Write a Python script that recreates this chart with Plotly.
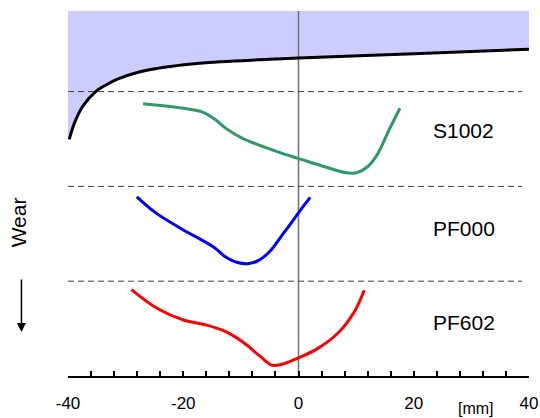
import plotly.graph_objects as go

# Profile (black) curve
profile_x = [-39.8, -38.9, -37.5, -35.2, -32.8, -31.1, -25.9, -17.2, -5.1, 0, 20, 40]
profile_y = [24.96, 26.65, 28.4, 30.0, 30.9, 31.4, 32.3, 33.0, 33.4, 33.55, 34.0, 34.47]

# S1002 (green)
s1002_x = [-26.96, -20.71, -16.55, -14.34, -12.60, -9.72, -3.35, -0.05, 3.59, 8.23, 10.07, 11.98, 13.72, 15.75, 17.60]
s1002_y = [28.72, 28.30, 27.81, 27.00, 26.12, 25.07, 23.59, 22.96, 22.25, 21.44, 21.44, 22.07, 23.40, 26.0, 28.24]

# PF000 (blue)
pf000_x = [-28.06, -24.76, -20.42, -14.64, -12.90, -10.59, -8.56, -6.82, -4.79, -3.06, -1.32, 0.12, 2.03]
pf000_y = [18.90, 17.21, 15.56, 13.56, 12.67, 11.97, 11.87, 12.22, 13.27, 14.68, 16.09, 17.32, 18.84]

# PF602 (red)
pf602_x = [-28.99, -24.48, -19.84, -16.37, -12.90, -9.43, -6.53, -4.51, -2.48, 0.12, 3.30, 6.77, 9.67, 11.41]
pf602_y = [9.12, 7.12, 5.88, 5.43, 4.75, 3.48, 2.01, 1.12, 1.31, 1.94, 2.89, 4.48, 6.76, 9.05]

labels = ["S1002", "PF000", "PF602"]
label_y = [25.94, 15.56, 5.6]
label_x = 23.0
dash_levels = [10, 20, 30]
x_ticks = list(range(-40, 41, 4))
x_ticktext = [str(v) if v % 20 == 0 else "" for v in x_ticks]
Y_TOP = 38.5

FONT = "Liberation Sans, Arial, sans-serif"

fig = go.Figure()
# top boundary for fill
fig.add_trace(go.Scatter(x=[-40, 40], y=[Y_TOP, Y_TOP], mode="lines",
                         line=dict(width=0, color="rgba(0,0,0,0)"), showlegend=False, hoverinfo="skip"))
fig.add_trace(go.Scatter(x=[-40] + profile_x, y=[profile_y[0]] + profile_y, mode="lines",
                         line=dict(width=0, color="rgba(0,0,0,0)", shape="spline"),
                         fill="tonexty", fillcolor="#ccccff", showlegend=False, hoverinfo="skip"))
# vertical zero line
fig.add_trace(go.Scatter(x=[0, 0], y=[0, Y_TOP], mode="lines",
                         line=dict(width=1.5, color="#707070"), showlegend=False))
fig.add_trace(go.Scatter(x=profile_x, y=profile_y, mode="lines",
                         line=dict(width=3, color="black", shape="spline"), showlegend=False))
fig.add_trace(go.Scatter(x=s1002_x, y=s1002_y, mode="lines",
                         line=dict(width=3, color="#2e9a66", shape="spline", smoothing=0.8), showlegend=False))
fig.add_trace(go.Scatter(x=pf000_x, y=pf000_y, mode="lines",
                         line=dict(width=3, color="#0000ff", shape="spline", smoothing=1.0), showlegend=False))
fig.add_trace(go.Scatter(x=pf602_x, y=pf602_y, mode="lines",
                         line=dict(width=3, color="#ff0000", shape="spline", smoothing=1.0), showlegend=False))

for lv in dash_levels:
    fig.add_shape(type="line", x0=-40, x1=38.8, y0=lv, y1=lv, xref="x", yref="y",
                  line=dict(color="#404040", width=1, dash="6px,4px"), layer="above")

for t, yv in zip(labels, label_y):
    fig.add_annotation(x=label_x, y=yv, text=t, showarrow=False, xanchor="left", yanchor="middle",
                       font=dict(size=21, color="black", family=FONT))

fig.add_annotation(x=-0.107, y=0.42, xref="paper", yref="paper", text="Wear", textangle=-90,
                   showarrow=False, xanchor="center", yanchor="middle",
                   font=dict(size=21, color="black", family=FONT))
fig.add_annotation(x=-0.101, y=0.1206, xref="paper", yref="paper", text="", showarrow=True,
                   ax=0, ay=-54, arrowhead=2, arrowsize=1.2, arrowwidth=1.5, arrowcolor="black")
fig.add_annotation(x=30.8, y=-0.09, xref="x", yref="paper", text="[mm]", showarrow=False,
                   xanchor="center", yanchor="middle",
                   font=dict(size=16, color="black", family=FONT))

fig.update_xaxes(range=[-40, 40], tickvals=x_ticks, ticktext=x_ticktext, ticks="inside",
                 ticklen=5, tickwidth=1.5, tickcolor="black", showline=True, linecolor="black",
                 linewidth=1.5, showgrid=False, zeroline=False, automargin=False,
                 ticklabelstandoff=11,
                 tickfont=dict(size=17, color="black", family=FONT))
fig.update_yaxes(range=[0, Y_TOP], visible=False, showgrid=False, zeroline=False, automargin=False)

fig.update_layout(width=540, height=418, margin=dict(l=68, r=11, t=11, b=42),
                  plot_bgcolor="white", paper_bgcolor="white", showlegend=False,
                  font=dict(family=FONT))

fig.write_html("out.html", config={"displayModeBar": False},
               post_script="document.body.style.margin='0';")
